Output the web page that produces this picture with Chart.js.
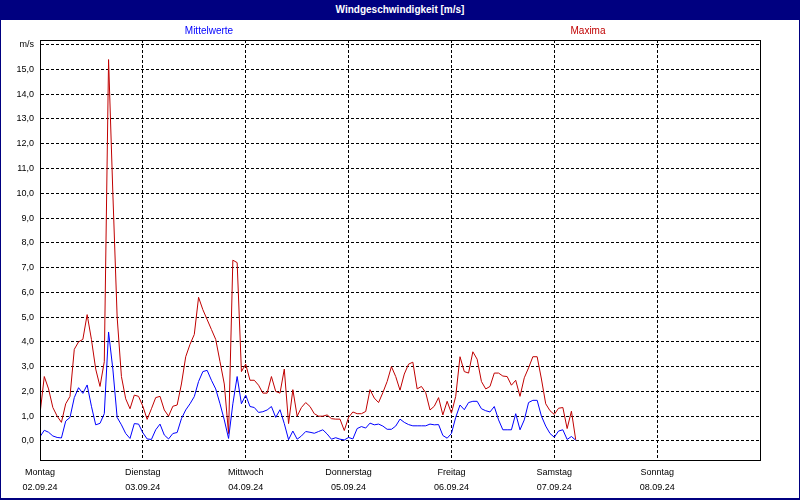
<!DOCTYPE html>
<html>
<head>
<meta charset="utf-8">
<title>Windgeschwindigkeit</title>
<script src="https://cdn.jsdelivr.net/npm/chart.js@4"></script>
<style>
  body { margin: 0; background: #fff; }
  #frame { position: relative; width: 800px; height: 500px; overflow: hidden; font-family: "Liberation Sans", Arial, sans-serif; }
  #windChart { position: absolute; left: 0; top: 0; }
  #titleBar { position: absolute; left: 0; top: 0; width: 800px; height: 20px; background: #000080; color: #fff;
    font-weight: bold; font-size: 10px; line-height: 19px; text-align: center; }
  .legendLabel { position: absolute; top: 25px; font-size: 10px; transform: translateX(-50%); white-space: nowrap; }
  #border { position: absolute; left: 0; top: 0; right: 0; bottom: 0; border: 1px solid #000080; border-bottom-width: 2px; pointer-events: none; }
</style>
</head>
<body>
<div id="frame">
  <canvas id="windChart" width="800" height="500"></canvas>
  <div id="titleBar">Windgeschwindigkeit [m/s]</div>
  <div class="legendLabel" style="left:209px;color:#0000ff">Mittelwerte</div>
  <div class="legendLabel" style="left:588px;color:#c00000">Maxima</div>
  <div id="border"></div>
</div>
<script>
// Stundenwerte ab Montag 02.09.24 00:00
var dayNames = ["Montag", "Dienstag", "Mittwoch", "Donnerstag", "Freitag", "Samstag", "Sonntag"];
var dayDates = ["02.09.24", "03.09.24", "04.09.24", "05.09.24", "06.09.24", "07.09.24", "08.09.24"];

var mittelwerte = [
  0.17, 0.43, 0.35, 0.2, 0.14, 0.12, 0.8, 0.95, 1.75, 2.15, 1.92, 2.26, 1.4, 0.65, 0.71, 1.1, 4.4, 2.9, 0.95, 0.65, 0.3, 0.1, 0.7, 0.68,
  0.33, 0.08, 0.06, 0.45, 0.68, 0.24, 0.08, 0.3, 0.34, 0.9, 1.25, 1.5, 1.79, 2.4, 2.8, 2.85, 2.45, 2.1, 1.5, 0.85, 0.1, 1.5, 2.6, 1.5,
  1.85, 1.39, 1.35, 1.15, 1.18, 1.25, 1.39, 0.95, 1.26, 0.7, 0.05, 0.4, 0.07, 0.2, 0.38, 0.35, 0.31, 0.38, 0.45, 0.28, 0.07, 0.13, 0.07, 0.04,
  0.14, 0.08, 0.5, 0.58, 0.52, 0.72, 0.65, 0.68, 0.6, 0.47, 0.47, 0.6, 0.88, 0.75, 0.66, 0.61, 0.61, 0.61, 0.61, 0.68, 0.65, 0.66, 0.22, 0.11,
  0.3, 0.95, 1.45, 1.26, 1.55, 1.6, 1.6, 1.3, 1.22, 1.17, 1.39, 0.85, 0.45, 0.45, 0.45, 1.1, 0.45, 0.85, 1.55, 1.64, 1.64, 1.0, 0.6, 0.3,
  0.15, 0.4, 0.45, 0.06, 0.18, 0.03
];

var maxima = [
  1.1, 2.6, 2.1, 1.35, 1.0, 0.75, 1.5, 1.8, 3.7, 4.0, 4.1, 5.1, 4.1, 2.9, 2.2, 3.2, 15.4, 10.0, 5.0, 2.6, 1.7, 1.3, 1.85, 1.8,
  1.4, 0.87, 1.3, 1.75, 1.8, 1.25, 1.0, 1.4, 1.45, 2.3, 3.4, 3.9, 4.3, 5.8, 5.3, 4.9, 4.5, 4.1, 3.2, 2.3, 0.3, 7.3, 7.2, 2.8,
  3.1, 2.45, 2.45, 2.25, 1.93, 1.93, 2.6, 2.0, 1.93, 2.9, 0.7, 2.07, 1.0, 1.35, 1.55, 1.39, 1.1, 1.0, 1.0, 1.05, 0.9, 0.88, 0.88, 0.42,
  0.95, 1.17, 1.1, 1.1, 1.19, 2.07, 1.73, 1.55, 1.95, 2.4, 3.0, 2.6, 2.05, 2.7, 3.1, 3.18, 2.1, 2.2, 1.95, 1.25, 1.4, 1.75, 1.05, 1.6,
  1.12, 1.8, 3.4, 2.8, 2.74, 3.6, 3.3, 2.4, 2.1, 2.2, 2.74, 2.74, 2.62, 2.6, 2.25, 2.45, 1.8, 2.55, 2.95, 3.4, 3.4, 2.5, 1.5, 1.22,
  1.07, 1.32, 1.35, 0.5, 1.2, 0.05
];

var yMin = -0.77;
var yMax = 16.19;
var tickFont = { family: "Liberation Sans", size: 9 };

function toPoints(values) {
  return values.map(function (v, i) { return { x: i, y: v }; });
}

// Rahmen um den Plotbereich
var plotFrame = {
  id: "plotFrame",
  afterDatasetsDraw: function (chart) {
    var ctx = chart.ctx;
    var a = chart.chartArea;
    ctx.save();
    ctx.strokeStyle = "#000";
    ctx.lineWidth = 1;
    ctx.strokeRect(a.left + 0.5, a.top + 0.5, a.right - a.left, a.bottom - a.top);
    ctx.restore();
  },
};

var windCtx = document.getElementById("windChart").getContext("2d");
var windChart = new Chart(windCtx, {
  type: "line",
  data: {
    datasets: [
      {
        label: "Mittelwerte",
        data: toPoints(mittelwerte),
        borderColor: "#0000ff",
        borderWidth: 1,
        pointRadius: 0,
        tension: 0,
      },
      {
        label: "Maxima",
        data: toPoints(maxima),
        borderColor: "#c00000",
        borderWidth: 1,
        pointRadius: 0,
        tension: 0,
      },
    ],
  },
  options: {
    responsive: false,
    animation: false,
    layout: { padding: { left: 0, top: 40, right: 40, bottom: 0 } },
    plugins: {
      legend: { display: false },
      title: { display: false },
      tooltip: { enabled: false },
    },
    scales: {
      x: {
        type: "linear",
        min: 0,
        max: 168,
        grid: { color: "#000", lineWidth: 1, drawTicks: false },
        border: { color: "#000", width: 1, dash: [3, 2] },
        ticks: {
          stepSize: 24,
          autoSkip: false,
          maxRotation: 0,
          padding: 5,
          color: "#000",
          font: { family: "Liberation Sans", size: 9, lineHeight: 1.667 },
          callback: function (v) {
            var d = Math.round(v / 24);
            return d < 7 ? [dayNames[d], dayDates[d]] : "";
          },
        },
        afterFit: function (s) { s.height = 40; },
      },
      y: {
        min: yMin,
        max: yMax,
        grid: { color: "#000", lineWidth: 1, drawTicks: false },
        border: { color: "#000", width: 1, dash: [3, 2] },
        ticks: {
          stepSize: 1,
          includeBounds: false,
          autoSkip: false,
          padding: 6,
          color: "#000",
          font: tickFont,
          callback: function (v) {
            return v === 16 ? "m/s" : v.toFixed(1).replace(".", ",");
          },
        },
        afterFit: function (s) { s.width = 40; },
      },
    },
  },
  plugins: [plotFrame],
});
</script>
</body>
</html>
